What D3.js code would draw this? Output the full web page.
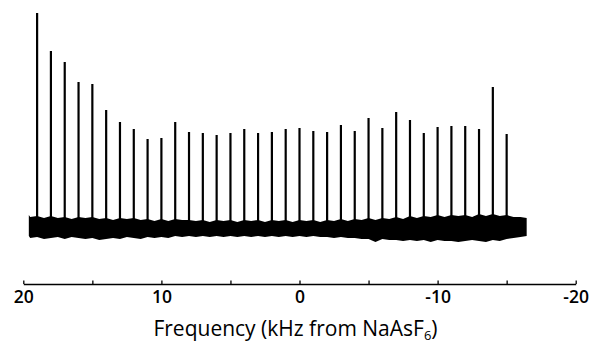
<!DOCTYPE html>
<html>
<head>
<meta charset="utf-8">
<script src="https://cdn.jsdelivr.net/npm/d3@7"></script>
<style>
  html, body { margin: 0; padding: 0; background: #fff; }
  svg { display: block; }
  text { font-family: "Open Sans", "Noto Sans", sans-serif; fill: #000; }
</style>
</head>
<body>
<svg id="chart" width="589" height="344"></svg>
<script>
// Peak positions (kHz from NaAsF6) and heights (arbitrary intensity units)
const peakFreq = [19, 18, 17, 16, 15, 14, 13, 12, 11, 10, 9, 8, 7, 6, 5, 4, 3, 2, 1, 0,
                  -1, -2, -3, -4, -5, -6, -7, -8, -9, -10, -11, -12, -13, -14, -15];
const peakHeight = [215, 177, 166, 146, 144, 118, 106, 99, 89, 90, 106, 96, 95, 93, 95, 99, 95, 96, 99, 100,
                    97, 96, 103, 97, 110, 100, 116, 108, 95, 101, 102, 102, 99, 141, 94];

// Noise band envelope (upper / lower edge, same intensity units), read every 0.5 kHz
const noiseFreq = [19.6, 19.5, 19, 18.5, 18, 17.5, 17, 16.5, 16, 15.5, 15, 14.5, 14, 13.5, 13, 12.5, 12, 11.5, 11, 10.5,
                   10, 9.5, 9, 8.5, 8, 7.5, 7, 6.5, 6, 5.5, 5, 4.5, 4, 3.5, 3, 2.5, 2, 1.5, 1, 0.5,
                   0, -0.5, -1, -1.5, -2, -2.5, -3, -3.5, -4, -4.5, -5, -5.5, -6, -6.5, -7, -7.5, -8, -8.5, -9, -9.5,
                   -10, -10.5, -11, -11.5, -12, -12.5, -13, -13.5, -14, -14.5, -15, -15.5, -16, -16.45];
const noiseTop = [13, 11, 12, 10, 12, 10, 11, 9, 11, 10, 11, 9, 10, 8, 10, 9, 10, 8, 9, 7,
                  9, 7, 9, 8, 8, 7, 8, 6, 8, 7, 8, 6, 8, 7, 8, 6, 8, 7, 8, 6,
                  8, 7, 8, 6, 8, 7, 9, 7, 9, 8, 10, 8, 10, 9, 11, 9, 12, 10, 12, 11,
                  13, 11, 13, 12, 13, 11, 14, 12, 14, 12, 13, 11, 11, 10];
const noiseBottom = [-8, -10, -9, -11, -10, -9, -11, -9, -10, -11, -10, -12, -11, -10, -11, -9, -10, -11, -9, -10,
                     -9, -10, -8, -9, -8, -9, -8, -9, -8, -9, -8, -9, -8, -9, -8, -9, -8, -9, -8, -9,
                     -8, -9, -8, -9, -9, -10, -9, -10, -10, -11, -11, -14, -11, -12, -12, -13, -12, -13, -12, -14,
                     -12, -13, -13, -14, -13, -12, -13, -14, -12, -13, -11, -10, -9, -8];

// Axis ticks
const tickValues = [20, 15, 10, 5, 0, -5, -10, -15, -20];
const tickLabels = ["20", "", "10", "", "0", "", "-10", "", "-20"];

const svg = d3.select("#chart");

const x = d3.scaleLinear().domain([20, -20]).range([23.3, 575.7]);
const y = d3.scaleLinear().domain([0, 215]).range([228, 13]);

// noise band
const area = d3.area()
  .x((d, i) => x(noiseFreq[i]))
  .y0((d, i) => y(noiseBottom[i]))
  .y1((d, i) => y(noiseTop[i]))
  .curve(d3.curveLinear);
svg.append("path")
  .datum(noiseFreq)
  .attr("d", area)
  .attr("fill", "#000");

// peaks
svg.append("g")
  .selectAll("line")
  .data(peakFreq)
  .join("line")
  .attr("x1", d => x(d))
  .attr("x2", d => x(d))
  .attr("y1", y(0))
  .attr("y2", (d, i) => y(peakHeight[i]))
  .attr("stroke", "#000")
  .attr("stroke-width", 2.2);

// axis
const axis = d3.axisBottom(x)
  .tickValues(tickValues)
  .tickFormat((d, i) => tickLabels[i])
  .tickSizeInner(-3.5)
  .tickSizeOuter(0)
  .tickPadding(7);

const gAxis = svg.append("g")
  .attr("transform", "translate(0,284)")
  .call(axis);
gAxis.select(".domain").attr("stroke", "#000").attr("stroke-width", 1.6);
gAxis.selectAll(".tick line").attr("stroke", "#000").attr("stroke-width", 1.3);
gAxis.selectAll(".tick text")
  .style("font-family", '"Open Sans", sans-serif')
  .style("font-size", "17.5px")
  .style("font-weight", "600")
  .attr("fill", "#000");

// axis title
const title = svg.append("text")
  .attr("x", x(0) - 4)
  .attr("y", 336)
  .attr("text-anchor", "middle")
  .style("font-size", "21px");
title.append("tspan").text("Frequency (kHz from NaAsF");
title.append("tspan").text("6").attr("dy", 4).style("font-size", "13px");
title.append("tspan").text(")").attr("dy", -4);
</script>
</body>
</html>
